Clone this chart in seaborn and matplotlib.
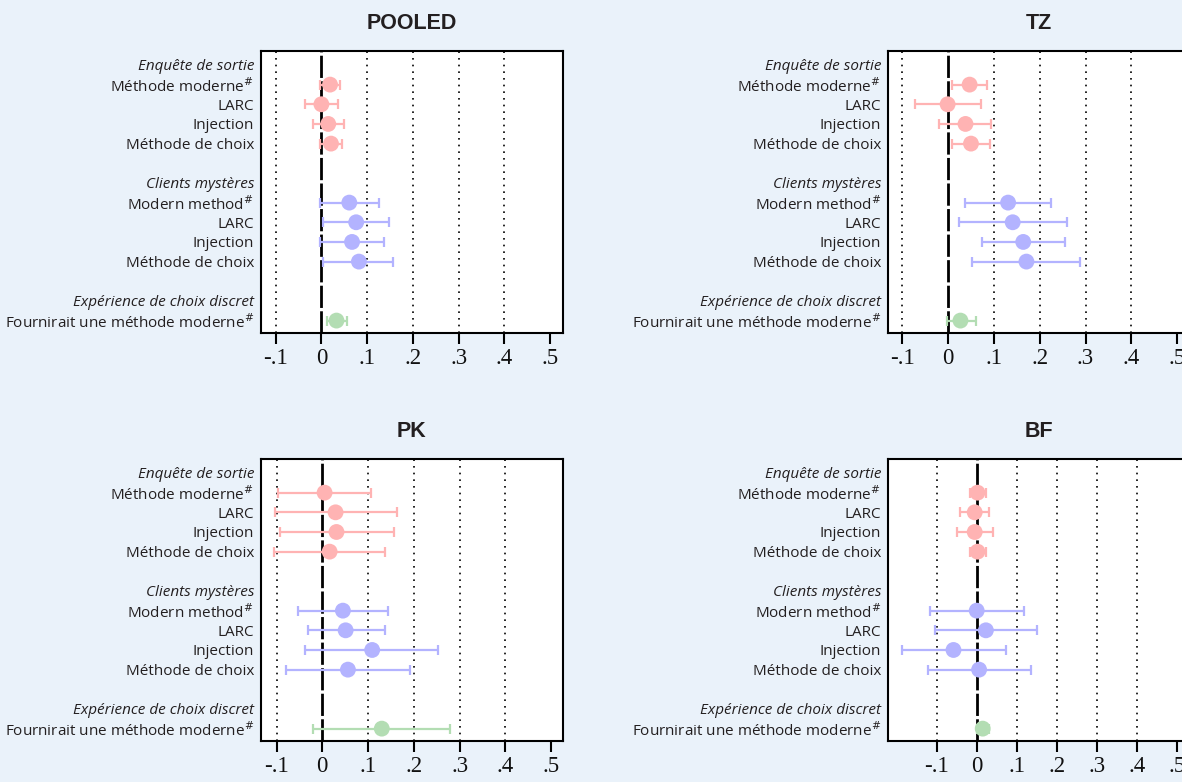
import pandas as pd
import seaborn as sns
import matplotlib.pyplot as plt

# Lignes de l'axe Y (titres de section en italique, lignes vides)
row_labels = ["Enquête de sortie", "Méthode moderne$^{\\#}$", "LARC", "Injection", "Méthode de choix", "",
              "Clients mystères", "Modern method$^{\\#}$", "LARC", "Injection", "Méthode de choix", "",
              "Expérience de choix discret", "Fournirait une méthode moderne$^{\\#}$"]
headers = ["Enquête de sortie", "Clients mystères", "Expérience de choix discret"]
groups = ["sortie"] * 4 + ["mystere"] * 4 + ["dce"]

# Estimations et intervalles de confiance par pays
pooled_est = [0.019, 0.000, 0.015, 0.021, 0.061, 0.076, 0.067, 0.082, 0.033]
pooled_lo = [-0.003, -0.036, -0.019, -0.002, -0.004, 0.004, -0.004, 0.004, 0.012]
pooled_hi = [0.041, 0.036, 0.050, 0.045, 0.125, 0.148, 0.137, 0.157, 0.056]

tz_est = [0.047, -0.001, 0.038, 0.050, 0.131, 0.141, 0.164, 0.171, 0.027]
tz_lo = [0.009, -0.073, -0.019, 0.009, 0.038, 0.023, 0.073, 0.053, -0.002]
tz_hi = [0.086, 0.071, 0.094, 0.091, 0.224, 0.260, 0.255, 0.288, 0.060]

pk_est = [0.005, 0.029, 0.031, 0.016, 0.045, 0.051, 0.109, 0.056, 0.130]
pk_lo = [-0.096, -0.104, -0.093, -0.105, -0.053, -0.032, -0.037, -0.080, -0.020]
pk_hi = [0.107, 0.164, 0.156, 0.136, 0.143, 0.136, 0.253, 0.191, 0.278]

bf_est = [0.002, -0.005, -0.005, 0.002, 0.000, 0.023, -0.058, 0.006, 0.015]
bf_lo = [-0.017, -0.041, -0.048, -0.017, -0.117, -0.104, -0.187, -0.121, 0.002]
bf_hi = [0.022, 0.030, 0.040, 0.023, 0.118, 0.150, 0.072, 0.135, 0.030]

xticks = [-0.1, 0, 0.1, 0.2, 0.3, 0.4, 0.5]
xtick_labels = ["-.1", "0", ".1", ".2", ".3", ".4", ".5"]

palette = {"sortie": "#FFB3B3", "mystere": "#B3B3FF", "dce": "#B3DDB3"}
bg = "#EAF2FA"

sns.set_theme(style="white")
plt.rcParams["font.family"] = ["Open Sans", "DejaVu Sans"]

fig = plt.figure(figsize=(11.82, 7.82), dpi=100, facecolor=bg)

# positions des panneaux (les panneaux de droite débordent comme dans l'original)
panels = [
    ("POOLED", pooled_est, pooled_lo, pooled_hi, [0.2208, 0.5742, 0.2555, 0.3606], (-0.132, 0.528)),
    ("TZ", tz_est, tz_lo, tz_hi, [0.7513, 0.5742, 0.2555, 0.3606], (-0.131, 0.528)),
    ("PK", pk_est, pk_lo, pk_hi, [0.2208, 0.0524, 0.2555, 0.3606], (-0.134, 0.526)),
    ("BF", bf_est, bf_lo, bf_hi, [0.7513, 0.0524, 0.2555, 0.3606], (-0.2215, 0.533)),
]

data_rows = [i for i, lab in enumerate(row_labels) if lab and lab not in headers]

for title, est, lo, hi, pos, xlim in panels:
    ax = fig.add_axes(pos)
    ax.set_facecolor("white")
    df = pd.DataFrame({"row": data_rows, "est": est, "lo": lo, "hi": hi, "group": groups})

    # lignes pointillées verticales et ligne zéro
    for xv in [-0.1, 0.1, 0.2, 0.3, 0.4]:
        ax.axvline(xv, color="black", lw=1.2, ls=(0, (1, 3)), zorder=0)
    ax.axvline(0, color="black", lw=2, ls=(0, (8, 1.2)), zorder=1)

    for g, sub in df.groupby("group"):
        ax.errorbar(sub["est"], sub["row"],
                    xerr=[sub["est"] - sub["lo"], sub["hi"] - sub["est"]],
                    fmt="none", ecolor=palette[g], elinewidth=1.6, capsize=3.5, capthick=1.6, zorder=2)
    sns.scatterplot(data=df, x="est", y="row", hue="group", palette=palette, s=130,
                    edgecolor="none", legend=False, ax=ax, zorder=3)

    ax.set_xlim(*xlim)
    ax.set_ylim(13.63, -0.71)
    ax.set_xticks(xticks)
    ax.set_xticklabels(xtick_labels, fontfamily="Liberation Serif", fontsize=16.5, color="#111111")
    ax.set_yticks(range(len(row_labels)))
    ax.set_yticklabels(row_labels, fontsize=11, color="#231F20")
    for lab in ax.get_yticklabels():
        if lab.get_text() in headers:
            lab.set_fontstyle("italic")
    ax.tick_params(axis="x", direction="out", length=8, width=1.5, color="black", pad=3, bottom=True)
    ax.tick_params(axis="y", length=0, pad=5)
    for sp in ax.spines.values():
        sp.set_visible(True)
        sp.set_color("black")
        sp.set_linewidth(1.5)
    ax.set_xlabel("")
    ax.set_ylabel("")
    ax.set_title(title, fontfamily="Liberation Sans", fontweight="bold", fontsize=15.5,
                 color="#231F20", pad=16)

fig.savefig("out.png", dpi=100, facecolor=bg)
